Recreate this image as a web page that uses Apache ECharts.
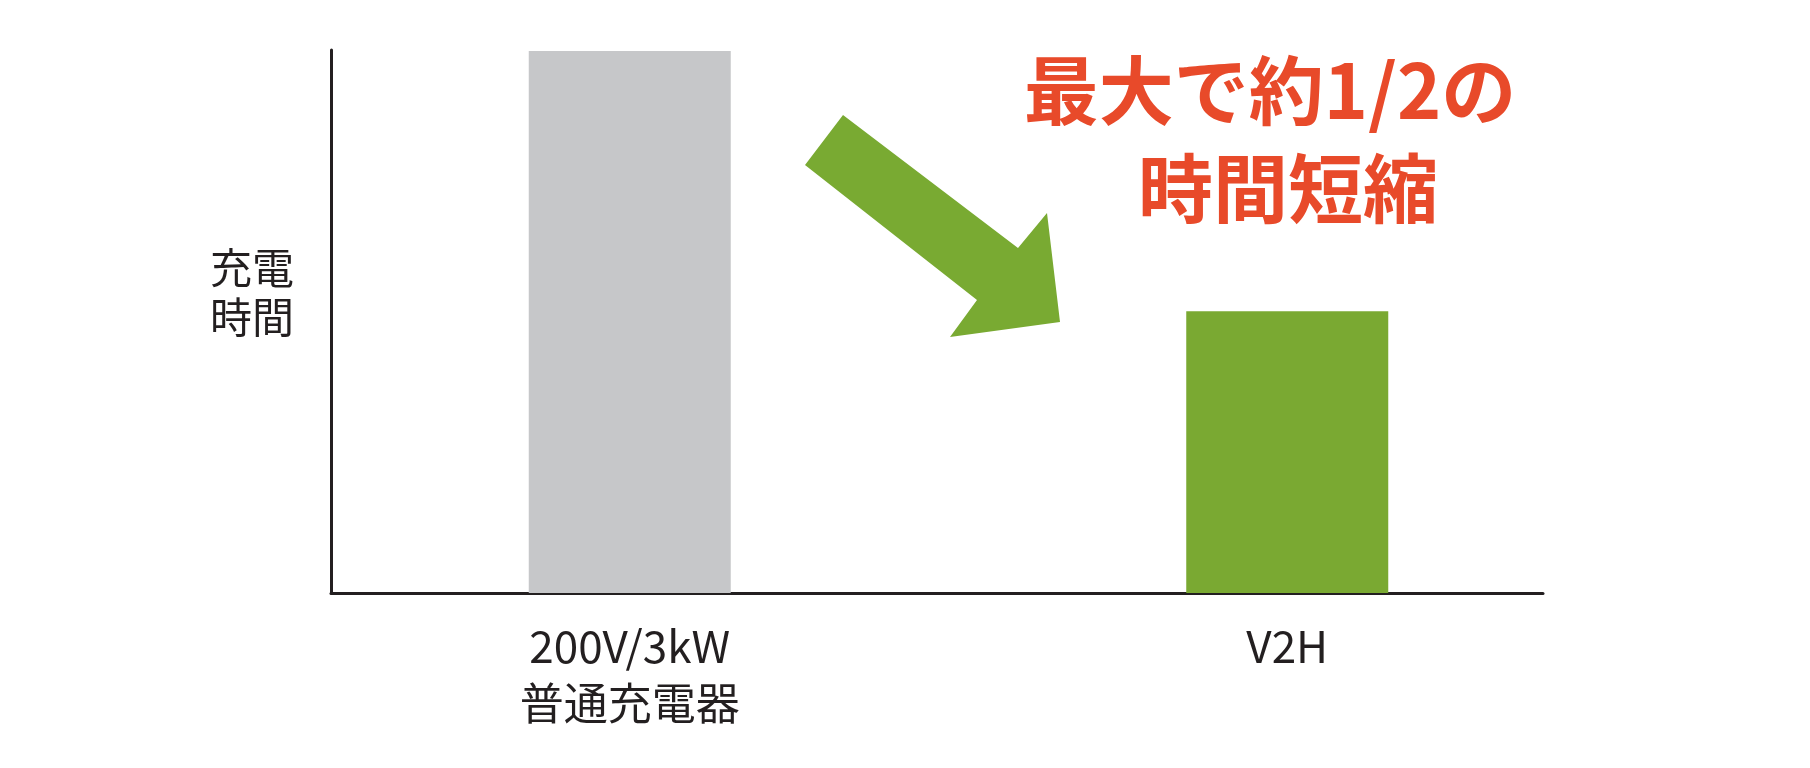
<!DOCTYPE html>
<html>
<head>
<meta charset="utf-8">
<script src="https://cdn.jsdelivr.net/npm/echarts@6/dist/echarts.min.js"></script>
<style>
html,body{margin:0;padding:0;background:#fff;}
#chart{width:1810px;height:768px;}
</style>
</head>
<body>
<div id="chart"></div>
<script>
// Data
const categories = ['200V/3kW\n普通充電器', 'V2H'];
const chargeTime = [100, 52];
const barColors = ['#c6c7c9', '#7aa932'];
const yAxisTitle = '充電\n時間';
const headline1 = '最大で約1/2の';
const headline2 = '時間短縮';

const FONT = '"Noto Sans CJK JP", "Noto Sans", sans-serif';
const INK = '#231f20';
const RED = '#e84a2a';

const chart = echarts.init(document.getElementById('chart'), null, {renderer: 'canvas'});

const option = {
  backgroundColor: '#ffffff',
  animation: false,
  grid: [
    // frame grid (axis lines)
    {left: 331, right: 267, top: 50, bottom: 175},
    // bar grid
    {left: 301, right: 194, top: 51, bottom: 175}
  ],
  xAxis: [
    {
      gridIndex: 0, type: 'value', min: 0, max: 1,
      axisLine: {show: true, lineStyle: {color: INK, width: 3}},
      axisTick: {show: false}, axisLabel: {show: false}, splitLine: {show: false}
    },
    {
      gridIndex: 1, type: 'category', data: categories,
      axisLine: {show: false}, axisTick: {show: false}, splitLine: {show: false},
      axisLabel: {
        show: true, margin: 25, color: INK, fontFamily: FONT,
        fontSize: 44, lineHeight: 57, interval: 0
      }
    }
  ],
  yAxis: [
    {
      gridIndex: 0, type: 'value', min: 0, max: 1,
      axisLine: {show: true, lineStyle: {color: INK, width: 3}},
      axisTick: {show: false}, axisLabel: {show: false}, splitLine: {show: false}
    },
    {
      gridIndex: 1, type: 'value', min: 0, max: 100, show: false,
      splitLine: {show: false}
    }
  ],
  series: [
    {
      type: 'bar',
      xAxisIndex: 1, yAxisIndex: 1,
      barWidth: 202,
      z: 1,
      data: chargeTime.map((v, i) => ({value: v, itemStyle: {color: barColors[i]}}))
    }
  ],
  graphic: [
    {
      type: 'text', z: 10,
      style: {
        text: yAxisTitle, x: 252, y: 293, fill: INK,
        fontSize: 42, fontFamily: FONT, lineHeight: 49,
        align: 'center', verticalAlign: 'middle'
      }
    },
    {
      type: 'text', z: 10,
      style: {
        text: headline1, x: 1270, y: 90, fill: RED,
        fontSize: 75, fontWeight: 'bold', fontFamily: FONT,
        align: 'center', verticalAlign: 'middle'
      }
    },
    {
      type: 'text', z: 10,
      style: {
        text: headline2, x: 1288, y: 188, fill: RED,
        fontSize: 75, fontWeight: 'bold', fontFamily: FONT,
        align: 'center', verticalAlign: 'middle'
      }
    },
    {
      type: 'polygon', z: 10,
      shape: {points: [[843,115],[1018,248],[1047,213],[1060,322],[950,337],[977,300],[805,165]]},
      style: {fill: '#79aa32'}
    }
  ]
};

chart.setOption(option);
</script>
</body>
</html>
